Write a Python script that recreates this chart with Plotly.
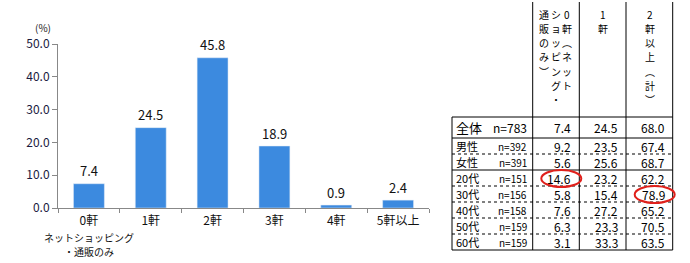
import plotly.graph_objects as go

# ---- data ----
categories = ["0軒", "1軒", "2軒", "3軒", "4軒", "5軒以上"]
shares = [7.4, 24.5, 45.8, 18.9, 0.9, 2.4]
first_sub = ["ネットショッピング", "・通販のみ"]

row_labels = ["全体", "男性", "女性", "20代", "30代", "40代", "50代", "60代"]
row_n = [783, 392, 391, 151, 156, 158, 159, 159]
col_headers = [["0軒（ネット", "ショッピング・", "通販のみ）"], ["1軒"], ["2軒以上（計）"]]
col0 = [7.4, 9.2, 5.6, 14.6, 5.8, 7.6, 6.3, 3.1]
col1 = [24.5, 23.5, 25.6, 23.2, 15.4, 27.2, 23.3, 33.3]
col2 = [68.0, 67.4, 68.7, 62.2, 78.9, 65.2, 70.5, 63.5]
highlights = [(3, 0), (4, 2)]  # (row, col) circled in red

# ---- layout geometry (pixels) ----
W, H = 690, 263
L, R, T, B = 58, 429, 44, 208
FONT = "Noto Sans CJK JP"
BAR = "#3C8ADF"


def px(x):
    return (x - L) / (R - L)


def py(y):
    return (B - y) / (B - T)


fig = go.Figure()
fig.add_trace(go.Bar(x=categories, y=shares, marker_color=BAR, width=0.5,
                     hoverinfo="skip"))

ann = []
for c, v in zip(categories, shares):
    ann.append(dict(x=c, y=v, xref="x", yref="y", text=f"{v:.1f}", showarrow=False,
                    yanchor="middle", yshift=13, font=dict(size=13, color="#111", family=FONT)))
for k, s in enumerate(first_sub):
    ann.append(dict(x=categories[0], y=0, xref="x", yref="y", text=s, showarrow=False,
                    yanchor="middle", yshift=-(29 + 14.5 * k), borderpad=0,
                    font=dict(size=10, color="#111", family=FONT)))
ann.append(dict(x=px(43), y=py(28), xref="paper", yref="paper", text="(%)", showarrow=False,
                xanchor="center", yanchor="middle", font=dict(size=10, color="#222", family=FONT)))

shapes = []
# table geometry
tx = [452, 532.7, 579.3, 626, 672.7]
row_y = [117, 138, 154, 170, 186, 202, 218, 234, 250]
solid_rows = {0, 1, 3, 8}
line = dict(color="black", width=1)
dot = dict(color="black", width=1, dash="dot")
for i, y in enumerate(row_y):
    shapes.append(dict(type="line", xref="paper", yref="paper", x0=px(tx[0]), x1=px(tx[-1]),
                       y0=py(y), y1=py(y), line=line if i in solid_rows else dot))
for x in tx:
    y0 = 117 if x == tx[0] else 2
    shapes.append(dict(type="line", xref="paper", yref="paper", x0=px(x), x1=px(x),
                       y0=py(y0), y1=py(250), line=line))

# header vertical text (one annotation per character)
VMAP = {"（": "︵", "）": "︶"}
hdr_x = [[567, 555.5, 544], [603], [649.5]]
for cols, xs in zip(col_headers, hdr_x):
    for s, x in zip(cols, xs):
        for k, ch in enumerate(s):
            ann.append(dict(x=px(x), y=py(14 + 14.3 * k), xref="paper", yref="paper",
                            text=VMAP.get(ch, ch), showarrow=False, borderpad=0,
                            xanchor="center", yanchor="middle",
                            font=dict(size=10, color="black", family=FONT)))

# rows
for i, (lab, n) in enumerate(zip(row_labels, row_n)):
    yc = (row_y[i] + row_y[i + 1]) / 2
    fs = 13 if i == 0 else 11
    ann.append(dict(x=px(454), y=py(yc), xref="paper", yref="paper", text=lab, showarrow=False,
                    xanchor="left", yanchor="middle", font=dict(size=fs, color="black", family=FONT)))
    ann.append(dict(x=px(529), y=py(yc), xref="paper", yref="paper", text=f"n={n}", showarrow=False,
                    xanchor="right", yanchor="middle",
                    font=dict(size=12 if i == 0 else 10, color="black", family=FONT)))
    for j, colv in enumerate([col0, col1, col2]):
        ann.append(dict(x=px(tx[j + 2] - 6), y=py(yc), xref="paper", yref="paper",
                        text=f"{colv[i]:.1f}", showarrow=False, xanchor="right", yanchor="middle",
                        font=dict(size=12, color="black", family=FONT)))

# red circles
for (ri, cj) in highlights:
    yc = (row_y[ri] + row_y[ri + 1]) / 2
    xr = tx[cj + 2] - 6
    shapes.append(dict(type="circle", xref="paper", yref="paper",
                       x0=px(xr - 32), x1=px(xr + 8), y0=py(yc + 9), y1=py(yc - 8),
                       line=dict(color="#E0201B", width=2)))

fig.update_layout(
    width=W, height=H, margin=dict(l=L, r=W - R, t=T, b=H - B),
    paper_bgcolor="white", plot_bgcolor="white", showlegend=False,
    font=dict(family=FONT, size=12, color="#111"),
    annotations=ann, shapes=shapes,
    xaxis=dict(type="category", range=[-0.5, 5.5], showline=True, linecolor="#888", linewidth=1,
               ticks="outside", tickson="boundaries", ticklen=4, tickcolor="#888", showgrid=False,
               ticklabelstandoff=2,
               tickfont=dict(size=12, color="#111", family=FONT), fixedrange=True),
    yaxis=dict(range=[0, 50], dtick=10, tickformat=".1f", showline=True, linecolor="#888",
               ticks="outside", ticklen=5, tickcolor="#888", showgrid=False, zeroline=False,
               tickfont=dict(size=12, color="#1a1a40", family=FONT), fixedrange=True),
)

fig.write_html("out.html")
